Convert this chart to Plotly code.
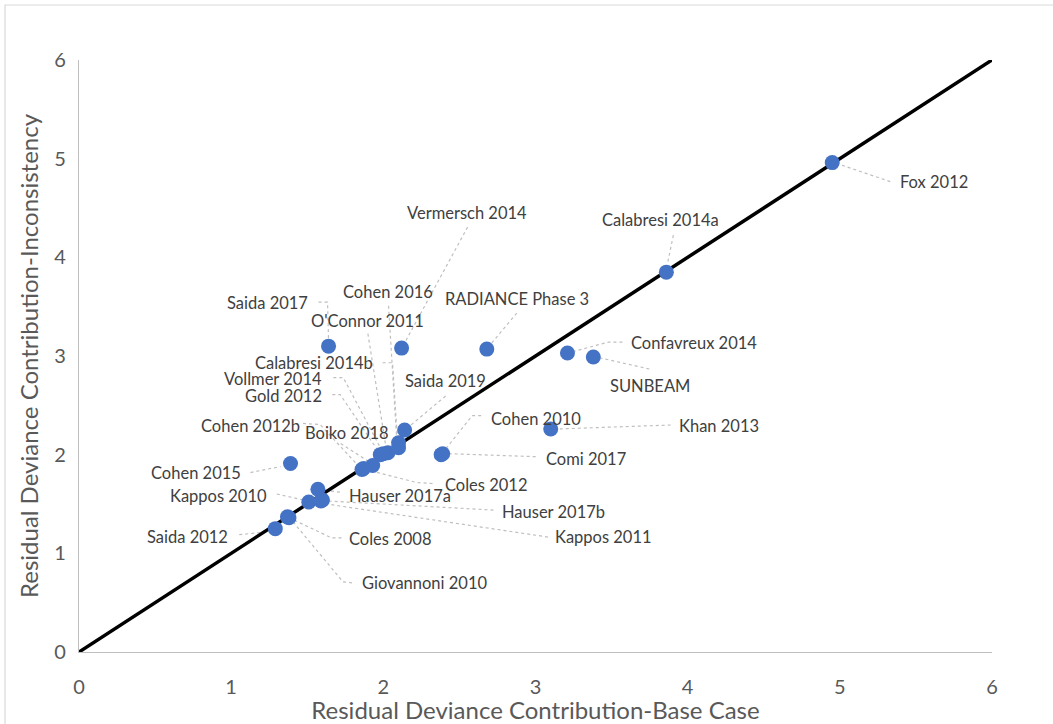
import plotly.graph_objects as go

# ---------------- data ----------------
studies = [
    "Fox 2012", "Calabresi 2014a", "Vermersch 2014", "Cohen 2016", "O'Connor 2011",
    "Calabresi 2014b", "Vollmer 2014", "Gold 2012", "Saida 2019", "Saida 2017",
    "RADIANCE Phase 3", "Confavreux 2014", "SUNBEAM", "Khan 2013", "Comi 2017",
    "Cohen 2010", "Cohen 2012b", "Boiko 2018", "Coles 2012", "Cohen 2015",
    "Hauser 2017a", "Kappos 2010", "Hauser 2017b", "Kappos 2011", "Coles 2008",
    "Giovannoni 2010", "Saida 2012",
]
base_case = [
    4.95, 3.86, 2.12, 2.10, 2.03,
    2.10, 2.00, 1.98, 2.14, 1.64,
    2.68, 3.21, 3.38, 3.10, 2.39,
    2.38, 1.86, 1.93, 1.87, 1.39,
    1.57, 1.51, 1.60, 1.59, 1.37,
    1.38, 1.29,
]
inconsistency = [
    4.96, 3.85, 3.08, 2.12, 2.02,
    2.07, 2.01, 2.00, 2.25, 3.10,
    3.07, 3.03, 2.99, 2.26, 2.01,
    2.00, 1.85, 1.89, 1.86, 1.91,
    1.65, 1.52, 1.54, 1.53, 1.37,
    1.36, 1.25,
]
identity_line = [0, 6]
x_ticks = [0, 1, 2, 3, 4, 5, 6]
y_ticks = [0, 1, 2, 3, 4, 5, 6]
x_title = "Residual Deviance Contribution-Base Case"
y_title = "Residual Deviance Contribution-Inconsistency"

# ---------------- layout constants ----------------
W, H = 1053, 724
ML, MR, MT, MB = 79, 61, 60, 72
X_RANGE = [0, 6]
Y_RANGE = [0, 6]
PX_X = (W - ML - MR) / (X_RANGE[1] - X_RANGE[0])
PX_Y = (H - MT - MB) / (Y_RANGE[1] - Y_RANGE[0])

# label placement: text centre offset (px, screen dy down) and leader vertices (px offsets)
label_layout = {
    "Fox 2012": ((102, 19), [(58, 19), (8, 2)]),
    "Calabresi 2014a": ((-6, -52), [(7, -37), (1, -8)]),
    "Vermersch 2014": ((65, -135), [(66, -121), (4, -7)]),
    "Cohen 2016": ((-11, -151), [(-10, -137), (-2, -6)]),
    "O'Connor 2011": ((-20, -132), [(-20, -119), (-2, -6)]),
    "Calabresi 2014b": ((-85, -85), [(-16, -85), (-6, -85), (-1, -6)]),
    "Vollmer 2014": ((-110, -75), [(-50, -76), (-40, -76), (-3, -6)]),
    "Gold 2012": ((-97, -59), [(-48, -60), (-40, -60), (-3, -5)]),
    "Saida 2019": ((41, -49), [(41, -34), (4, -3)]),
    "Saida 2017": ((-61, -43), [(-10, -44), (-1, -44), (0, -6)]),
    "RADIANCE Phase 3": ((30, -50), [(30, -36), (4, -5)]),
    "Confavreux 2014": ((127, -10), [(55, -11), (41, -11), (4, -1)]),
    "SUNBEAM": ((57, 29), [(56, 12), (7, 1)]),
    "Khan 2013": ((168, -3), [(120, -4), (6, 0)]),
    "Comi 2017": ((143, 5), [(93, 3), (6, 0)]),
    "Cohen 2010": ((95, -36), [(40, -39), (31, -39), (4, -5)]),
    "Cohen 2012b": ((-112, -43), [(-59, -46), (-42, -45), (-4, -4)]),
    "Boiko 2018": ((-26, -33), [(-32, -22), (-4, -4)]),
    "Coles 2012": ((122, 17), [(69, 15), (53, 14), (6, 2)]),
    "Cohen 2015": ((-95, 9), [(-40, 9), (-10, 3)]),
    "Hauser 2017a": ((82, 7), [(22, 3), (6, 1)]),
    "Kappos 2010": ((-90, -6), [(-32, -8), (-5, -2)]),
    "Hauser 2017b": ((231, 12), [(171, 10), (6, 1)]),
    "Kappos 2011": ((283, 36), [(227, 36), (6, 3)]),
    "Coles 2008": ((103, 22), [(54, 21), (44, 21), (6, 3)]),
    "Giovannoni 2010": ((136, 65), [(63, 65), (54, 64), (4, 4)]),
    "Saida 2012": ((-88, 8), [(-36, 6), (-6, 3)]),
}

FONT = "Lato"
LABEL_COLOR = "#404040"
AXIS_TEXT = "#595959"
LEADER_COLOR = "#BFBFBF"
MARKER_COLOR = "#4472C4"

fig = go.Figure()

fig.add_trace(go.Scatter(
    x=identity_line, y=identity_line, mode="lines",
    line=dict(color="black", width=3.5), hoverinfo="skip", showlegend=False,
))
fig.add_trace(go.Scatter(
    x=base_case, y=inconsistency, mode="markers", text=studies,
    marker=dict(color=MARKER_COLOR, size=15), showlegend=False,
))

annotations = []
shapes = []
for name, bx, iy in zip(studies, base_case, inconsistency):
    (tdx, tdy), leader = label_layout[name]
    annotations.append(dict(
        x=bx, y=iy, xref="x", yref="y", text=name, showarrow=False,
        xshift=tdx, yshift=-tdy, xanchor="center", yanchor="middle",
        font=dict(family=FONT, size=16.5, color=LABEL_COLOR),
    ))
    pts = [(bx + dx / PX_X, iy - dy / PX_Y) for dx, dy in leader]
    path = "M " + " L ".join(f"{px:.4f},{py:.4f}" for px, py in pts)
    shapes.append(dict(
        type="path", path=path, xref="x", yref="y", layer="below",
        line=dict(color=LEADER_COLOR, width=1.2, dash="dot"),
    ))

# chart border
shapes.append(dict(
    type="rect", xref="paper", yref="paper",
    x0=(5 - ML) / (W - ML - MR), x1=1.1,
    y0=-0.3, y1=1 + (MT - 5) / (H - MT - MB),
    line=dict(color="#D9D9D9", width=1.2), fillcolor="rgba(0,0,0,0)", layer="below",
))

fig.update_layout(
    width=W, height=H,
    margin=dict(l=ML, r=MR, t=MT, b=MB, autoexpand=False),
    paper_bgcolor="white", plot_bgcolor="white",
    annotations=annotations, shapes=shapes,
    showlegend=False,
    font=dict(family=FONT, color=AXIS_TEXT),
)
fig.update_xaxes(
    range=X_RANGE, tickvals=x_ticks, ticktext=[str(t) for t in x_ticks],
    showgrid=False, zeroline=False, showline=True, linecolor="#BFBFBF", linewidth=1.2,
    ticks="outside", ticklen=17, tickcolor="rgba(0,0,0,0)",
    tickfont=dict(family=FONT, size=20, color=AXIS_TEXT),
    title=dict(text=x_title, font=dict(family=FONT, size=24, color=AXIS_TEXT), standoff=2),
    automargin=False,
)
fig.update_yaxes(
    range=Y_RANGE, tickvals=y_ticks, ticktext=[str(t) for t in y_ticks],
    showgrid=False, zeroline=False, showline=True, linecolor="#BFBFBF", linewidth=1.2,
    ticks="outside", ticklen=8, tickcolor="rgba(0,0,0,0)",
    tickfont=dict(family=FONT, size=20, color=AXIS_TEXT),
    title=dict(text=y_title, font=dict(family=FONT, size=24, color=AXIS_TEXT), standoff=8),
    automargin=False,
)

fig.write_html(
    "out.html",
    config={"displayModeBar": False},
    post_script="document.body.style.margin='0';document.body.style.overflow='hidden';",
)
